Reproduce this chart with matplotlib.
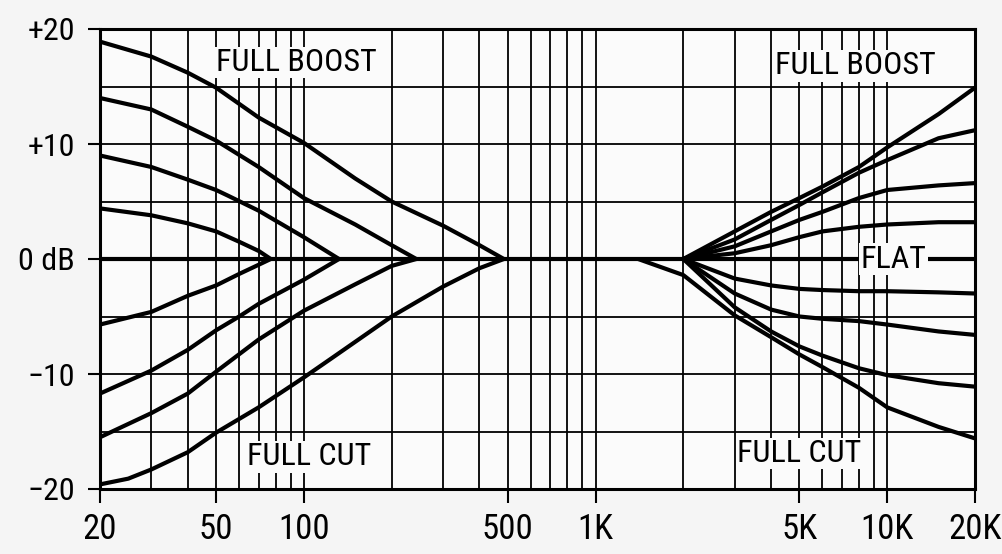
import matplotlib.pyplot as plt
from matplotlib.ticker import NullLocator

plt.rcParams['font.family'] = ['Liberation Sans Narrow', 'Roboto Condensed',
                               'Open Sans Condensed', 'DejaVu Sans']
plt.rcParams['font.stretch'] = 'condensed'

# --- values (Hz / dB) ---
bass_boost_f = [
    [20, 30, 40, 50, 70, 100, 150, 200, 300, 400, 485],
    [20, 30, 40, 50, 70, 100, 150, 200, 243],
    [20, 30, 40, 50, 55, 70, 100, 132],
    [20, 30, 40, 50, 60, 70, 77],
]
bass_boost_db = [
    [18.9, 17.6, 16.2, 14.9, 12.3, 10.1, 7.0, 5.0, 2.9, 1.2, 0],
    [14.0, 13.0, 11.5, 10.3, 8.0, 5.3, 3.0, 1.2, 0],
    [9.0, 8.0, 6.9, 6.0, 5.5, 4.2, 1.9, 0],
    [4.4, 3.8, 3.1, 2.4, 1.5, 0.7, 0],
]
bass_cut_f = [
    [20, 30, 40, 50, 60, 70, 77],
    [20, 30, 40, 50, 60, 70, 100, 132],
    [20, 30, 40, 50, 70, 100, 150, 200, 243],
    [20, 25, 30, 40, 50, 70, 100, 125, 200, 300, 400, 485],
]
bass_cut_db = [
    [-5.7, -4.6, -3.2, -2.3, -1.3, -0.5, 0],
    [-11.7, -9.7, -7.9, -6.2, -5.0, -3.9, -1.8, 0],
    [-15.5, -13.4, -11.7, -9.8, -7.0, -4.5, -2.2, -0.6, 0],
    [-19.6, -19.1, -18.3, -16.8, -15.1, -12.9, -10.3, -8.6, -5.0, -2.4, -0.8, 0],
]
treble_f = [2000, 3000, 4000, 5000, 6000, 8000, 10000, 15000, 20000]
treble_boost_db = [
    [0, 2.4, 4.1, 5.3, 6.3, 8.0, 9.7, 12.6, 14.9],
    [0, 1.7, 3.4, 4.7, 5.8, 7.5, 8.6, 10.5, 11.2],
    [0, 1.1, 2.4, 3.4, 4.1, 5.3, 6.0, 6.4, 6.6],
    [0, 0.5, 1.2, 1.9, 2.4, 2.8, 3.0, 3.2, 3.2],
]
treble_cut_db = [
    [0, -1.7, -2.3, -2.6, -2.7, -2.8, -2.8, -2.9, -3.0],
    [0, -3.0, -4.4, -5.0, -5.2, -5.4, -5.7, -6.3, -6.6],
    [0, -4.2, -6.3, -7.6, -8.4, -9.5, -10.1, -10.8, -11.1],
]
full_cut_f = [1400, 2000, 3000, 4000, 5000, 6000, 8000, 10000, 15000, 20000]
full_cut_db = [0, -1.4, -4.9, -6.8, -8.3, -9.4, -11.2, -12.9, -14.6, -15.6]
flat_f = [20, 20000]
flat_db = [0, 0]

grid_f = [20, 30, 40, 50, 60, 70, 80, 90,
          100, 200, 300, 400, 500, 600, 700, 800, 900,
          1000, 2000, 3000, 4000, 5000, 6000, 7000, 8000, 9000,
          10000, 20000]
grid_db = [-20, -15, -10, -5, 0, 5, 10, 15, 20]
xtick_f = [20, 50, 100, 500, 1000, 5000, 10000, 20000]
xtick_labels = ['20', '50', '100', '500', '1K', '5K', '10K', '20K']
ytick_db = [20, 10, 0, -10, -20]
ytick_labels = ['+20', '+10', '0 dB', '\u221210', '\u221220']

fig_bg = '#f5f5f5'
ax_bg = '#fbfbfb'

fig = plt.figure(figsize=(10.03, 5.54), dpi=100, facecolor=fig_bg)
ax = fig.add_axes([100 / 1003, 65 / 554, 875 / 1003, 460 / 554])
ax.set_facecolor(ax_bg)
ax.set_xscale('log')
ax.set_xlim(20, 20000)
ax.set_ylim(-20, 20)

for f in grid_f:
    ax.axvline(f, color='black', lw=1.3, zorder=1)
for d in grid_db:
    ax.axhline(d, color='black', lw=1.3, zorder=1)

curve = dict(color='black', lw=3.0, solid_capstyle='round',
             solid_joinstyle='round', zorder=3)
ax.plot(flat_f, flat_db, **curve)
for f, d in zip(bass_boost_f, bass_boost_db):
    ax.plot(f, d, **curve)
for f, d in zip(bass_cut_f, bass_cut_db):
    ax.plot(f, d, **curve)
for d in treble_boost_db + treble_cut_db:
    ax.plot(treble_f, d, **curve)
ax.plot(full_cut_f, full_cut_db, **curve)

box = dict(facecolor=ax_bg, edgecolor='none', pad=1)
lbl = dict(ha='center', va='center', fontsize=23, bbox=box, zorder=5)
ax.text(94, 17.1, 'FULL BOOST', **lbl)
ax.text(7750, 16.8, 'FULL BOOST', **lbl)
ax.text(104, -17.2, 'FULL CUT', **lbl)
ax.text(5000, -16.9, 'FULL CUT', **lbl)
ax.text(10500, 0, 'FLAT', **lbl)

ax.xaxis.set_minor_locator(NullLocator())
ax.set_xticks(xtick_f, xtick_labels)
ax.set_yticks(ytick_db, ytick_labels)
ax.tick_params(axis='x', length=10, width=1.5, pad=7, labelsize=25)
ax.tick_params(axis='y', length=9, width=1.5, pad=9, labelsize=23)
for s in ax.spines.values():
    s.set_linewidth(2.2)
    s.set_zorder(6)

fig.savefig('out.png', dpi=100, facecolor=fig_bg)
